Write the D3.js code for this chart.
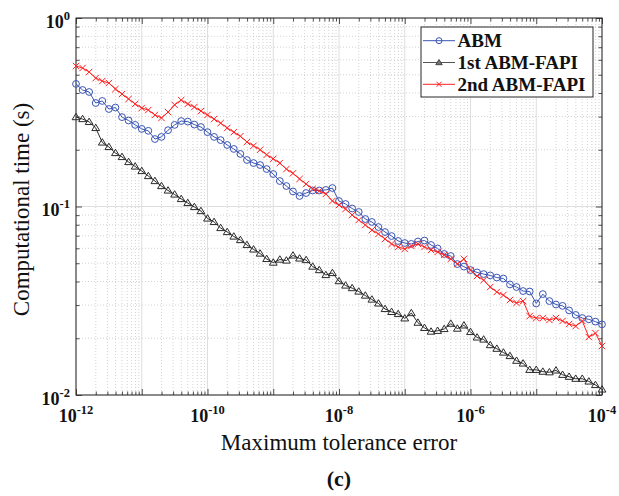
<!DOCTYPE html>
<html><head><meta charset="utf-8">
<script src="https://cdn.jsdelivr.net/npm/d3@7"></script>
<style>body{margin:0;background:#fff}svg{display:block}</style>
</head><body><svg id="c" width="619" height="496"></svg>
<script>
const tolerance = [
1e-12,1.259e-12,1.585e-12,1.995e-12,2.512e-12,3.162e-12,3.981e-12,5.012e-12,6.31e-12,7.943e-12,
1e-11,1.259e-11,1.585e-11,1.995e-11,2.512e-11,3.162e-11,3.981e-11,5.012e-11,6.31e-11,7.943e-11,
1e-10,1.259e-10,1.585e-10,1.995e-10,2.512e-10,3.162e-10,3.981e-10,5.012e-10,6.31e-10,7.943e-10,
1e-9,1.259e-9,1.585e-9,1.995e-9,2.512e-9,3.162e-9,3.981e-9,5.012e-9,6.31e-9,7.943e-9,
1e-8,1.259e-8,1.585e-8,1.995e-8,2.512e-8,3.162e-8,3.981e-8,5.012e-8,6.31e-8,7.943e-8,
1e-7,1.259e-7,1.585e-7,1.995e-7,2.512e-7,3.162e-7,3.981e-7,5.012e-7,6.31e-7,7.943e-7,
1e-6,1.259e-6,1.585e-6,1.995e-6,2.512e-6,3.162e-6,3.981e-6,5.012e-6,6.31e-6,7.943e-6,
1e-5,1.259e-5,1.585e-5,1.995e-5,2.512e-5,3.162e-5,3.981e-5,5.012e-5,6.31e-5,7.943e-5,
1e-4];
const abm = [
0.447,0.415,0.405,0.354,0.363,0.329,0.335,0.298,0.286,0.271,
0.258,0.252,0.228,0.234,0.254,0.271,0.284,0.282,0.272,0.264,
0.248,0.234,0.225,0.212,0.202,0.190,0.1765,0.170,0.166,0.158,
0.1487,0.1365,0.1284,0.1202,0.1137,0.1179,0.1216,0.1216,0.1224,0.1253,
0.1069,0.1031,0.0976,0.0935,0.0858,0.0828,0.0778,0.0732,0.0697,0.0656,
0.0640,0.0633,0.0652,0.0660,0.0625,0.0599,0.0560,0.0546,0.0495,0.0480,
0.0460,0.0447,0.0438,0.0431,0.0420,0.0415,0.0386,0.0374,0.0356,0.0354,
0.0306,0.0343,0.0315,0.0302,0.0297,0.0281,0.0266,0.0256,0.0252,0.0245,
0.0237];
const fapi1 = [
0.298,0.291,0.281,0.261,0.2186,0.2069,0.1922,0.1831,0.1722,0.1630,
0.1543,0.1451,0.1365,0.1284,0.1216,0.1158,0.1096,0.1044,0.0994,0.0946,
0.0864,0.0828,0.0769,0.0732,0.0693,0.0664,0.0625,0.0592,0.0563,0.0527,
0.0504,0.0523,0.0517,0.0550,0.0530,0.0520,0.0480,0.0460,0.0433,0.0444,
0.0402,0.0381,0.0369,0.0354,0.0337,0.0321,0.0306,0.0286,0.0276,0.0269,
0.0255,0.0272,0.0242,0.0227,0.0217,0.0219,0.0224,0.0239,0.0225,0.0234,
0.0216,0.0202,0.0197,0.0184,0.0176,0.0168,0.0161,0.0152,0.0147,0.0136,
0.0136,0.0133,0.0132,0.0135,0.0128,0.0125,0.0122,0.0122,0.0118,0.0113,
0.0107];
const fapi2 = [
0.556,0.543,0.517,0.480,0.463,0.452,0.420,0.395,0.372,0.350,
0.333,0.325,0.306,0.295,0.317,0.346,0.367,0.350,0.337,0.321,
0.306,0.291,0.277,0.261,0.248,0.236,0.220,0.210,0.200,0.188,
0.179,0.170,0.158,0.150,0.140,0.1316,0.124,0.121,0.1166,0.107,
0.1018,0.0970,0.0901,0.0848,0.0798,0.0750,0.0715,0.0673,0.0633,0.0610,
0.0595,0.0617,0.0633,0.0610,0.0588,0.0574,0.0553,0.0527,0.0495,0.0527,
0.0460,0.0428,0.0407,0.0374,0.0352,0.0339,0.0319,0.0308,0.0315,0.0262,
0.0256,0.0256,0.0250,0.0256,0.0247,0.0238,0.0232,0.0247,0.0203,0.0213,
0.0182];
const seriesNames = ["ABM","1st ABM-FAPI","2nd ABM-FAPI"];
const xTickExps = [-12,-10,-8,-6,-4];
const yTickExps = [-2,-1,0];
const xLabel = "Maximum tolerance error";
const yLabel = "Computational time (s)";
const caption = "(c)";

const svg = d3.select("#c");
const L=76,R=602,T=18,B=395;
const x = d3.scaleLog().domain([1e-12,1e-4]).range([L,R]);
const y = d3.scaleLog().domain([1e-2,1]).range([B,T]);
const serif = "'Liberation Serif','Times New Roman',serif";

function minors(lo,hi){const a=[];for(let e=lo;e<hi;e++)for(let k=2;k<=9;k++)a.push(k*Math.pow(10,e));return a;}
const xMinor = minors(-12,-4), yMinor = minors(-2,0);
const xMajor = d3.range(-12,-3).map(e=>Math.pow(10,e));
const yMajor = yTickExps.map(e=>Math.pow(10,e));

// grid
const g = svg.append("g");
g.selectAll(".xm").data(xMinor).join("line").attr("x1",d=>x(d)).attr("x2",d=>x(d)).attr("y1",T).attr("y2",B)
 .attr("stroke","#c8c8c8").attr("stroke-width",0.8).attr("stroke-dasharray","1,2");
g.selectAll(".ym").data(yMinor).join("line").attr("y1",d=>y(d)).attr("y2",d=>y(d)).attr("x1",L).attr("x2",R)
 .attr("stroke","#c8c8c8").attr("stroke-width",0.8).attr("stroke-dasharray","1,2");
g.selectAll(".xM").data(xMajor).join("line").attr("x1",d=>x(d)).attr("x2",d=>x(d)).attr("y1",T).attr("y2",B)
 .attr("stroke","#dedede").attr("stroke-width",1);
g.selectAll(".yM").data(yMajor).join("line").attr("y1",d=>y(d)).attr("y2",d=>y(d)).attr("x1",L).attr("x2",R)
 .attr("stroke","#dedede").attr("stroke-width",1);

// axes with inward ticks
function ax(gen, tx, ty, vals, size){
  const a = svg.append("g").attr("transform",`translate(${tx},${ty})`)
    .call(gen.tickValues(vals).tickSize(size).tickFormat(""));
  a.select(".domain").remove();
  a.selectAll("line").attr("stroke","#262626").attr("stroke-width",0.8);
}
ax(d3.axisBottom(x),0,B,xMajor,-6); ax(d3.axisBottom(x),0,B,xMinor,-3.5);
ax(d3.axisTop(x),0,T,xMajor,-6); ax(d3.axisTop(x),0,T,xMinor,-3.5);
ax(d3.axisLeft(y),L,0,yMajor,-6); ax(d3.axisLeft(y),L,0,yMinor,-3.5);
ax(d3.axisRight(y),R,0,yMajor,-6); ax(d3.axisRight(y),R,0,yMinor,-3.5);
svg.append("rect").attr("x",L).attr("y",T).attr("width",R-L).attr("height",B-T)
  .attr("fill","none").attr("stroke","#262626").attr("stroke-width",1);

// tick labels
const xl = svg.append("g").attr("font-family",serif).attr("font-weight","bold").attr("fill","#111");
xTickExps.forEach(e=>{
  const t = xl.append("text").attr("x",x(Math.pow(10,e))).attr("y",422).attr("text-anchor","middle").attr("font-size",18);
  t.append("tspan").text("10");
  t.append("tspan").attr("dy",-8).attr("font-size",12.5).text(String(e));
});
yTickExps.forEach(e=>{
  const t = xl.append("text").attr("x",70).attr("y",y(Math.pow(10,e))+9.5).attr("text-anchor","end").attr("font-size",18);
  t.append("tspan").text("10");
  t.append("tspan").attr("dy",-8).attr("font-size",12.5).text(String(e));
});

// axis titles
svg.append("text").attr("x",(L+R)/2).attr("y",450).attr("text-anchor","middle")
  .attr("font-family",serif).attr("font-size",23).attr("fill","#111").text(xLabel);
svg.append("text").attr("transform",`translate(29,${(T+B)/2+3}) rotate(-90)`).attr("text-anchor","middle")
  .attr("font-family",serif).attr("font-size",23).attr("fill","#111").text(yLabel);
svg.append("text").attr("x",(L+R)/2).attr("y",486).attr("text-anchor","middle")
  .attr("font-family",serif).attr("font-weight","bold").attr("font-size",22).attr("fill","#111").text(caption);

// series
const blue="#3a55b4", red="#ff2020", dark="#2a2a2a";
const line = d3.line().x((d,i)=>x(tolerance[i])).y(d=>y(d));
const triPath = "M0,-3.8L3.9,2.6L-3.9,2.6Z";
const crossPath = "M-3.2,-3.2L3.2,3.2M-3.2,3.2L3.2,-3.2";

function drawSeries(vals,color,marker){
  svg.append("path").datum(vals).attr("d",line).attr("fill","none").attr("stroke",color).attr("stroke-width",1);
  const mg = svg.append("g");
  vals.forEach((v,i)=>{
    const px=x(tolerance[i]), py=y(v);
    if(marker==="o") mg.append("circle").attr("cx",px).attr("cy",py).attr("r",3.4).attr("fill","none").attr("stroke",color).attr("stroke-width",1);
    else if(marker==="t") mg.append("path").attr("d",triPath).attr("transform",`translate(${px},${py})`).attr("fill","none").attr("stroke",color).attr("stroke-width",1);
    else mg.append("path").attr("d",crossPath).attr("transform",`translate(${px},${py})`).attr("fill","none").attr("stroke",color).attr("stroke-width",1);
  });
}
drawSeries(fapi1,dark,"t");
drawSeries(abm,blue,"o");
drawSeries(fapi2,red,"x");

// legend
const lg = svg.append("g");
lg.append("rect").attr("x",421).attr("y",27).attr("width",172).attr("height",70)
  .attr("fill","#fff").attr("stroke","#262626").attr("stroke-width",1);
const items=[[seriesNames[0],blue,"o"],[seriesNames[1],"#555","t"],[seriesNames[2],red,"x"]];
items.forEach((it,k)=>{
  const yy = 40.7 + k*21.8;
  lg.append("line").attr("x1",423).attr("x2",455).attr("y1",yy).attr("y2",yy).attr("stroke",it[1]).attr("stroke-width",1);
  if(it[2]==="o") lg.append("circle").attr("cx",439).attr("cy",yy).attr("r",3).attr("fill","none").attr("stroke",it[1]);
  else if(it[2]==="t") lg.append("path").attr("d","M0,-3L3.2,2.2L-3.2,2.2Z").attr("transform",`translate(439,${yy})`).attr("fill","#777").attr("stroke","#444");
  else lg.append("path").attr("d","M-2.5,-2.5L2.5,2.5M-2.5,2.5L2.5,-2.5").attr("transform",`translate(439,${yy})`).attr("stroke",it[1]);
  lg.append("text").attr("x",457.5).attr("y",yy+6.5).attr("font-family",serif).attr("font-weight","bold")
    .attr("font-size",19).attr("fill","#111").text(it[0]);
});
</script></body></html>
